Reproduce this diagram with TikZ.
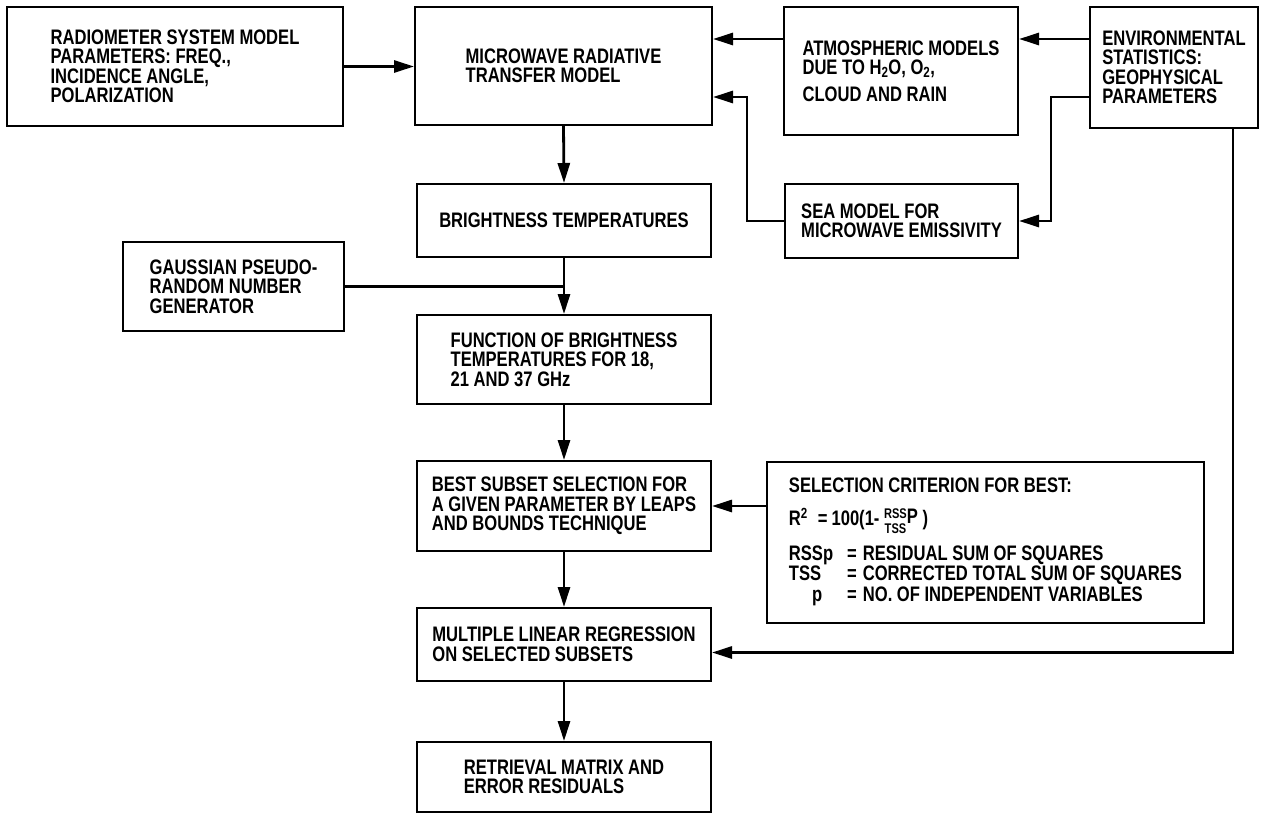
\documentclass[tikz,border=0pt]{standalone}
\usepackage{fontspec}
\newfontfamily\diag{Liberation Sans}[FakeStretch=0.79]
\usetikzlibrary{arrows.meta}
\tikzset{
  blk/.style={draw, line width=2pt, inner sep=0pt, align=left,
    font=\diag\bfseries\fontsize{21}{19.5}\selectfont},
  arr/.style={line width=2.8pt, -{Triangle[length=20pt,width=12pt]}},
  ln/.style={line width=2.8pt},
}
\begin{document}
\begin{tikzpicture}[x=1pt,y=-1pt]
\fill[white] (0,0) rectangle (1261,814);
\useasboundingbox (0,0) rectangle (1261,814);

\node[blk, minimum width=336pt, minimum height=119pt] (rad) at (175,66.5)
  {RADIOMETER SYSTEM MODEL\\PARAMETERS: FREQ.,\\INCIDENCE ANGLE,\\POLARIZATION};
\node[blk, minimum width=297pt, minimum height=118pt] (mw) at (563.5,66)
  {MICROWAVE RADIATIVE\\TRANSFER MODEL};
\node[blk, minimum width=234pt, minimum height=128pt] (atm) at (901,71)
  {ATMOSPHERIC MODELS\\DUE TO H\textsubscript{2}O, O\textsubscript{2},\\[7pt]CLOUD AND RAIN};
\node[blk, minimum width=168pt, minimum height=121pt] (env) at (1174,67.5)
  {ENVIRONMENTAL\\STATISTICS:\\GEOPHYSICAL\\PARAMETERS};
\node[blk, minimum width=294pt, minimum height=73pt] (bright) at (564,220.5)
  {BRIGHTNESS TEMPERATURES};
\node[blk, minimum width=233pt, minimum height=74pt] (sea) at (901.5,221)
  {SEA MODEL FOR\\MICROWAVE EMISSIVITY};
\node[blk, minimum width=221pt, minimum height=89pt] (gauss) at (233.5,286.5)
  {GAUSSIAN PSEUDO-\\RANDOM NUMBER\\GENERATOR};
\node[blk, minimum width=294pt, minimum height=89pt] (func) at (564,359.5)
  {FUNCTION OF BRIGHTNESS\\TEMPERATURES FOR 18,\\21 AND 37 GHz};
\node[blk, minimum width=294pt, minimum height=90pt] (best) at (564,506)
  {BEST SUBSET SELECTION FOR\\A GIVEN PARAMETER BY LEAPS\\AND BOUNDS TECHNIQUE};
\node[blk, minimum width=437pt, minimum height=161pt] (sel) at (985.5,542.5)
  {\begin{tabular}{@{}l@{\hspace{14pt}}c@{\hspace{6pt}}l@{}}
   \multicolumn{3}{@{}l@{}}{SELECTION CRITERION FOR BEST:}\\[10pt]
   \multicolumn{3}{@{}l@{}}{R\textsuperscript{2}\hspace{10pt}=\hspace{4pt}100(1-
     \raisebox{-8pt}{\fontsize{14}{12}\selectfont\shortstack{RSS\\[3pt]TSS}}\raisebox{2pt}{P} )}\\[14pt]
   RSSp & = & RESIDUAL SUM OF SQUARES\\
   TSS & = & CORRECTED TOTAL SUM OF SQUARES\\
   \hspace{1.1em}p & = & NO. OF INDEPENDENT VARIABLES
   \end{tabular}};
\node[blk, minimum width=294pt, minimum height=73pt] (mlr) at (564,644.5)
  {MULTIPLE LINEAR REGRESSION\\ON SELECTED SUBSETS};
\node[blk, minimum width=294pt, minimum height=70pt] (ret) at (564,777)
  {RETRIEVAL MATRIX AND\\ERROR RESIDUALS};

% connectors
\draw[arr] (rad.east) -- (rad.east -| mw.west);
\draw[arr] ([yshift=32pt]atm.west) -- ([yshift=32pt]atm.west -| mw.east);
\draw[arr] ([yshift=28.5pt]env.west) -- ([yshift=28.5pt]env.west -| atm.east);
\draw[arr] ([yshift=-29.5pt]env.west) -- ++(-38,0) |- (sea.east);
\draw[arr] (sea.west) -- ++(-37,0) |- ([yshift=-31pt]mw.east);
\draw[arr] (mw.south) -- (bright.north);
\draw[arr] (bright.south) -- (func.north);
\draw[ln] (gauss.east) -- (gauss.east -| func.north);
\draw[arr] (func.south) -- (best.north);
\draw[arr] (sel.west |- best.east) -- (best.east);
\draw[arr] (best.south) -- (mlr.north);
\draw[arr] ([xshift=59pt]env.south) |- ([yshift=-8pt]mlr.east);
\draw[arr] (mlr.south) -- (ret.north);
\end{tikzpicture}
\end{document}
